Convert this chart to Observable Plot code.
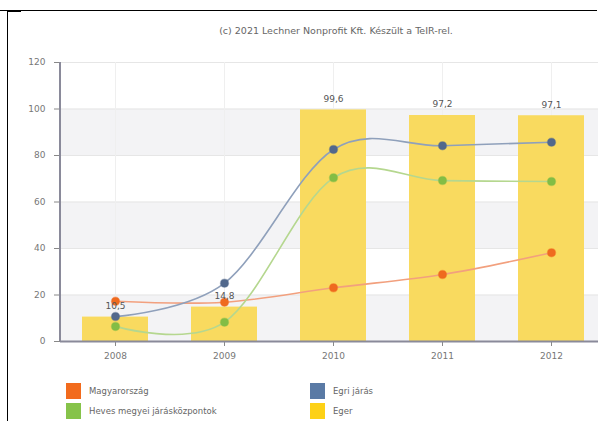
<!DOCTYPE html>
<html>
<head>
<meta charset="utf-8">
<script src="https://cdn.jsdelivr.net/npm/d3@7"></script>
<script src="https://cdn.jsdelivr.net/npm/@observablehq/plot@0.6"></script>
<style>
  html, body { margin: 0; padding: 0; background: #fff; width: 598px; height: 421px; overflow: hidden; font-family: "DejaVu Sans", sans-serif; }
  #wrap { position: relative; width: 598px; height: 421px; }
  .frameTop { position: absolute; left: 0; top: 10px; width: 597px; height: 1px; background: #000; }
  .frameTopThick { position: absolute; left: 7px; top: 10px; width: 14px; height: 2px; background: #000; }
  .frameLeft { position: absolute; left: 7px; top: 10px; width: 1px; height: 411px; background: #000; }
  #title { position: absolute; top: 25px; left: 0; width: 672px; text-align: center; font-size: 9.5px; color: #666; }
  #chart { position: absolute; left: 0; top: 40px; }
  .leg { position: absolute; font-size: 8.5px; color: #666; display: flex; align-items: center; }
  .sw { width: 15px; height: 16px; margin-right: 8px; }
</style>
</head>
<body>
<div id="wrap">
  <div class="frameTop"></div>
  <div class="frameTopThick"></div>
  <div class="frameLeft"></div>
  <div id="title">(c) 2021 Lechner Nonprofit Kft. Készült a TeIR-rel.</div>
  <div id="chart"></div>
  <div id="legend"></div>
</div>
<script>
const years = ["2008", "2009", "2010", "2011", "2012"];
const eger = [10.5, 14.8, 99.6, 97.2, 97.1];
const magyarorszag = [17.3, 16.9, 23.1, 28.8, 38.2];
const egriJaras = [10.7, 25.1, 82.6, 84.2, 85.7];
const hevesJk = [6.5, 8.3, 70.4, 69.2, 68.8];
const yTicks = [0, 20, 40, 60, 80, 100, 120];
const seriesNames = ["Magyarország", "Heves megyei járásközpontok", "Egri járás", "Eger"];

const colors = {
  "Magyarország": {dot: "#ef6a1f", line: "#f2a07e", legend: "#f26b1d"},
  "Heves megyei járásközpontok": {dot: "#83bd45", line: "#b5d78f", legend: "#86c34a"},
  "Egri járás": {dot: "#52688c", line: "#8fa0bb", legend: "#5a7aa5"},
  "Eger": {legend: "#fdd116", bar: "#f9da5f"}
};

const bars = years.map((y, i) => ({year: y, value: eger[i]}));
const lineSeries = [
  ["Magyarország", magyarorszag],
  ["Heves megyei járásközpontok", hevesJk],
  ["Egri járás", egriJaras]
].map(([name, vals]) => ({name, data: years.map((y, i) => ({year: y, value: vals[i]}))}));

const bands = [[0, 20], [40, 60], [80, 100]].map(([a, b]) => ({y1: a, y2: b}));

const marks = [
  Plot.rect(bands, {y1: "y1", y2: "y2", fill: "#f3f3f5"}),
  Plot.ruleY(yTicks, {stroke: "#e6e6e6", strokeWidth: 1}),
  Plot.ruleX(years, {stroke: "#efefef", strokeWidth: 1}),
  Plot.barY(bars, {x: "year", y: "value", fill: colors["Eger"].bar})
];
for (const s of lineSeries) {
  marks.push(Plot.line(s.data, {x: "year", y: "value", curve: "cardinal", stroke: colors[s.name].line, strokeWidth: 1.6}));
}
for (const s of lineSeries) {
  marks.push(Plot.dot(s.data, {x: "year", y: "value", r: 4, fill: colors[s.name].dot, stroke: colors[s.name].dot, strokeOpacity: 0.4, strokeWidth: 1.5}));
}
marks.push(
  Plot.text(bars, {x: "year", y: "value", text: d => d.value.toFixed(1).replace(".", ","), dy: -11, fontSize: 9, fill: "#555"}),
  Plot.axisY(yTicks, {tickSize: 6, tickPadding: 9, fontSize: 9, color: "#777", stroke: "#888"}),
  Plot.axisX({tickSize: 5, tickPadding: 6, fontSize: 9, color: "#777", stroke: "#888"}),
  Plot.ruleY([0], {stroke: "#8a8a9a", strokeWidth: 2})
);

const chart = Plot.plot({
  width: 598,
  height: 330,
  marginTop: 22,
  marginBottom: 29,
  marginLeft: 60,
  marginRight: 0,
  style: {fontFamily: "DejaVu Sans, sans-serif", background: "transparent", overflow: "visible"},
  x: {type: "band", domain: years, range: [60, 607], paddingInner: 0.39, paddingOuter: 0.195, label: null},
  y: {domain: [0, 120], label: null},
  marks
});
// y-axis line
d3.select(chart).append("line").attr("x1", 60).attr("x2", 60).attr("y1", 22).attr("y2", 301).attr("stroke", "#8a8a9a").attr("stroke-width", 2);
document.getElementById("chart").appendChild(chart);

const legend = document.getElementById("legend");
const legPos = [
  ["Magyarország", 66, 383],
  ["Heves megyei járásközpontok", 66, 403],
  ["Egri járás", 310, 383],
  ["Eger", 310, 403]
];
for (const [name, x, y] of legPos) {
  const d = document.createElement("div");
  d.className = "leg";
  d.style.left = x + "px";
  d.style.top = y + "px";
  d.innerHTML = `<div class="sw" style="background:${colors[name].legend}"></div><span>${name}</span>`;
  legend.appendChild(d);
}
</script>
</body>
</html>
